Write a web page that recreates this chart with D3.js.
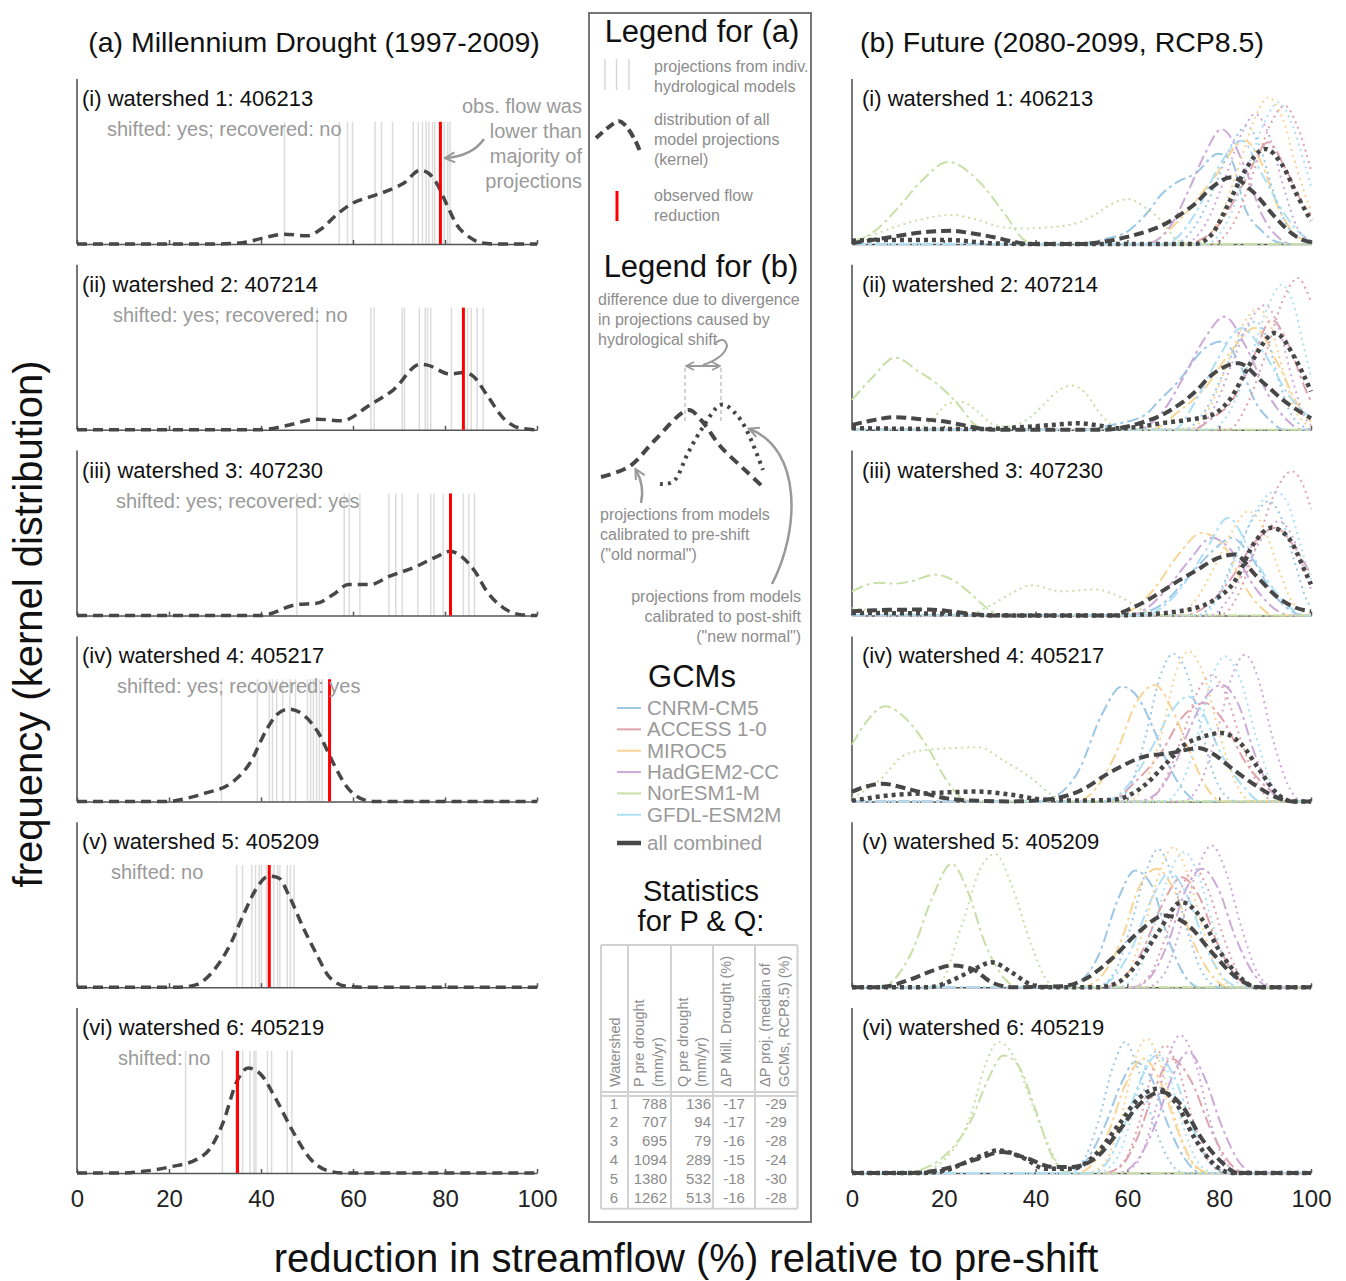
<!DOCTYPE html>
<html>
<head>
<meta charset="utf-8">
<script src="https://cdn.jsdelivr.net/npm/d3@7"></script>
<style>
	body { margin: 0; background: #fff; }
	svg { font-family: "Liberation Sans", Arial, sans-serif; }
</style>
</head>
<body>
<svg id="chart" width="1346" height="1281"></svg>
<script>
// ---- data ----
const xTicks = [0, 20, 40, 60, 80, 100];
const romans = ["i", "ii", "iii", "iv", "v", "vi"];
const watershedIds = ["406213", "407214", "407230", "405217", "405209", "405219"];
const shiftStatus = ["shifted: yes; recovered: no", "shifted: yes; recovered: no", "shifted: yes; recovered: yes",
	"shifted: yes; recovered: yes", "shifted: no", "shifted: no"];
const obsReduction = [79, 84, 81.2, 54.9, 41.8, 34.9];

// (a) projections of the individual hydrological models (%)
const projWs1 = [45.1, 57.0, 58.8, 59.9, 64.8, 66.2, 68.6, 73.1, 74.2, 75.1, 75.9, 76.5, 77.3, 77.8, 79.8, 80.6, 81.1];
const projWs2 = [52.2, 63.9, 64.6, 70.7, 71.2, 74.4, 75.7, 76.2, 76.9, 81.4, 84.9, 85.7, 87.0, 88.3];
const projWs3 = [47.8, 58.1, 59.2, 61.5, 67.8, 69.3, 70.7, 74.1, 76.9, 77.6, 79.6, 84.0, 85.2, 86.4];
const projWs4 = [31.4, 39.2, 41.8, 42.5, 43.4, 44.7, 46.3, 47.5, 50.1, 50.8, 51.4, 52.1, 52.7, 53.3];
const projWs5 = [34.7, 36.0, 38.0, 38.8, 39.6, 40.1, 41.2, 42.8, 43.6, 44.1, 45.7, 46.4, 47.2];
const projWs6 = [23.6, 31.6, 34.5, 36.0, 37.6, 38.5, 38.9, 41.4, 42.3, 45.7, 46.7];
const projTop = 74.5; // height of the model lines (frequency units)

// (a) kernel distribution of all model projections [reduction %, frequency]
const kernelWs1 = [[0,0],[30,0],[36,0.8],[41,4],[45,6],[50,5],[53,9],[56.5,18],[60,25],[64,29],[68,33],[71,37],[74.6,45],[76.5,43],[78.2,37],[80.4,24],[82.5,12],[85.4,4],[88,0.6],[91,0],[100,0]];
const kernelWs2 = [[0,0],[39.8,0],[45.6,2.6],[52.2,6.5],[57.5,5.5],[63.7,15.2],[68.8,24.4],[74.6,40],[76,39.6],[81.1,34],[84,35],[86.2,32.5],[89.1,21.3],[92.7,7.1],[96.3,1],[100,0]];
const kernelWs3 = [[0,0],[39.8,0],[47.8,6.7],[52.1,7.5],[55.7,12.8],[59,18.9],[63.7,18.9],[68,24],[73.8,30],[78.2,36],[81.1,39.2],[83.6,36],[86.5,27],[89.1,14.8],[92.7,4.7],[96.3,0.6],[100,0]];
const kernelWs4 = [[0,0],[20.2,0],[22.4,1],[27.5,4.7],[34,12.2],[37.6,23.4],[41.2,43.7],[43.4,52.8],[46,56.3],[49.2,52.8],[52.5,41.7],[55.7,23.4],[58.6,9.1],[61.5,2],[64.4,0],[100,0]];
const kernelWs5 = [[0,0],[22.4,0],[26,1.6],[29.6,9.8],[33.3,26],[36.2,44.3],[39.1,60.6],[41.6,67.7],[43.8,66.7],[46.3,54.5],[49.2,36.2],[52.1,20],[55,5.7],[58.6,0.6],[62,0],[100,0]];
const kernelWs6 = [[0,0],[9.3,0],[14.4,1],[20.2,3.7],[26,8.3],[28.9,14.8],[31.8,31],[34.7,55.5],[37.2,64],[39.8,60.6],[43.4,44.3],[47,25],[50.7,8.7],[54.3,1.6],[57.9,0],[100,0]];

// (b) GCMs, order: CNRM-CM5, ACCESS 1-0, MIROC5, HadGEM2-CC, NorESM1-M, GFDL-ESM2M
const gcmNames = ["CNRM-CM5", "ACCESS 1-0", "MIROC5", "HadGEM2-CC", "NorESM1-M", "GFDL-ESM2M"];
const gcmColors = ["#9cc7e6", "#e0a3ad", "#f8d594", "#cda9d9", "#c8dfa6", "#ade0f4"];

// old normal (models calibrated pre-shift), per GCM
const oldWs1 = [
	[[0,0],[49,0],[55,3],[60.2,8],[64,18],[67.5,30.5],[71,38],[74.7,42.7],[79.8,55],[82.7,50.8],[85.6,22],[89.3,8],[92.9,1],[96,0],[100,0]],
	[[0,0],[72,0],[76.9,4],[80.5,14],[85.6,38.6],[90.7,62],[94.3,46.7],[98.7,22.4],[100,18]],
	[[0,0],[64,0],[71.1,14],[78.4,38.6],[85.6,63],[89.3,48.8],[92.9,22],[96.5,6],[100,1]],
	[[0,0],[64,0],[69.6,12],[73.3,32.5],[76.9,55],[80.5,70],[85.6,46.7],[89.3,18],[92.9,4],[96,0],[100,0]],
	[[0,1],[5,8],[10,22],[15,38],[21,50],[27.5,38.6],[33.3,18.3],[37.7,2],[40,0],[100,0]],
	[[0,0],[68,0],[75.5,22],[79.8,46.7],[84.9,63],[89.3,42.7],[94.3,18],[98.7,4],[100,2]]
];
const oldWs2 = [
	[[0,0],[50,0],[56.6,3],[63.8,9],[67,18],[71.1,29.5],[76.9,49.8],[80.5,53.9],[84.2,41.7],[87.8,17.3],[91.4,5],[94,0],[100,0]],
	[[0,0],[74,0],[78.4,7],[82.7,17.3],[87.1,41.7],[91.4,67],[95.1,51.8],[98.7,25.4],[100,17.3]],
	[[0,0],[65,0],[71.1,11],[76.9,25.4],[82,45.7],[87.8,62],[92.9,39.6],[97.2,15],[100,5]],
	[[0,0],[62,0],[68.2,13],[72.5,33.5],[76.9,56],[81.2,69],[85.6,51.8],[90.7,21.3],[95.1,5],[98,0],[100,0]],
	[[0,18.3],[4.3,31.5],[9.4,44],[14.5,35.6],[18.8,27.4],[23.2,15.2],[26.8,3],[29,0],[100,0]],
	[[0,0],[70,0],[75.5,21],[79.8,43.7],[84.9,62],[90,45.7],[95.1,21.3],[100,7]]
];
const oldWs3 = [
	[[0,0],[60,0],[64,2],[67.5,6.7],[72.5,21],[78.4,39],[82.7,47.4],[87.1,35.2],[91.4,14.8],[95.8,2.6],[98,0],[100,0]],
	[[0,0],[72,0],[78.4,8.7],[82.7,23],[87.8,45],[92.2,53.5],[96.5,41.3],[100,25]],
	[[0,0],[56,0],[61.7,4.7],[66,16.9],[71.1,37.2],[76.2,50.4],[81.3,41.3],[84.9,21],[88.5,6.7],[92,0],[100,0]],
	[[0,0],[60,0],[64,4],[67.5,12.8],[73.3,33],[78.4,47.4],[83.4,37.2],[87.8,17],[92.9,2.6],[96,0],[100,0]],
	[[0,14.8],[5.7,20],[9.4,19.5],[13,21],[18.1,25],[22.4,21],[26.1,12.8],[30.4,2.6],[33,0],[100,0]],
	[[0,0],[64,0],[67.5,5],[71.1,14.8],[76.9,39],[82,59.6],[87.1,37.2],[92.2,14.8],[96.5,2.6],[99,0],[100,0]]
];
const oldWs4 = [
	[[0,0],[40,0],[43.5,2],[49.3,18.3],[54.4,52.8],[58.8,70],[62.4,63],[65.3,46.7],[68.9,22.4],[72.5,6],[75.6,0],[100,0]],
	[[0,0],[56,0],[61.7,12],[67.5,30.5],[71.8,50.8],[76.9,60],[80.5,50.8],[85.6,24.4],[91.4,6],[95,0],[100,0]],
	[[0,0],[49,0],[53.7,10],[58,32.5],[61.7,59],[66,71],[69.6,57],[73.3,32.5],[76.9,10],[80.5,0],[100,0]],
	[[0,0],[62,0],[66,4],[69.6,18.3],[73.3,42.7],[76.9,63],[80.5,71],[84.2,59],[87.8,28.5],[91.4,6],[94,0],[100,0]],
	[[0,34.6],[3,48],[7.2,58],[11.6,50.8],[16.6,32.5],[20.3,14.2],[23.9,2],[26,0],[100,0]],
	[[0,0],[55,0],[60.2,10],[65.3,32.5],[69.6,55],[73.3,64],[76.2,55],[80.5,28.5],[85.6,8],[89,0],[100,0]]
];
const oldWs5 = [
	[[0,0],[45,0],[47.9,1],[53.7,19.3],[58,53.9],[61.7,71.1],[65.3,62],[68.9,29.5],[72.5,7],[75.6,0],[100,0]],
	[[0,0],[55,0],[58.8,5],[63.1,21.3],[67.5,49.8],[71.8,67],[75.5,56],[79.8,25.4],[84.2,5],[87,0],[100,0]],
	[[0,0],[50,0],[54.4,7],[58.8,29.5],[62.4,60],[66.4,72.2],[70.4,57.9],[74.7,25.4],[79.1,5],[82,0],[100,0]],
	[[0,0],[61,0],[64.6,5],[68.9,27.4],[72.5,58],[76.2,72.2],[79.8,60],[83.4,31.5],[87.8,7],[91,0],[100,0]],
	[[0,0],[5,0],[7.2,1],[13,21.3],[17.4,53.9],[21.7,75.2],[25.3,57.9],[28.9,27.4],[33.3,5],[36,0],[100,0]],
	[[0,0],[53,0],[56.6,5],[60.9,23.4],[65.3,54],[69.3,70],[73.3,54],[77.6,21.3],[82,3],[85,0],[100,0]]
];
const oldWs6 = [
	[[0,0],[46,0],[49.3,2.6],[55.1,29],[58.8,55.5],[61.7,67.7],[65.3,57.5],[68.9,29],[72.5,8.7],[76,0],[100,0]],
	[[0,0],[55,0],[58.8,4.7],[62.4,23],[66,51.4],[69.6,69.7],[74,55.5],[78.4,25],[82.7,4.7],[86,0],[100,0]],
	[[0,0],[49,0],[52.2,4.7],[55.9,25],[59.5,53.5],[63.5,69.7],[67.5,53.5],[71.1,25],[74.7,4.7],[78,0],[100,0]],
	[[0,0],[58,0],[62.4,8.7],[66,29],[69.6,57.5],[73.3,73.8],[76.9,57.5],[80.5,29],[84.9,4.7],[88,0],[100,0]],
	[[0,0],[12,0],[14.5,1.6],[20.3,10.8],[26.1,33],[29.7,57.5],[33,71.7],[36.2,65.6],[39.9,39.2],[43.5,10.8],[46.4,0.6],[49,0],[100,0]],
	[[0,0],[52,0],[55.1,4.7],[58.8,25],[62.4,53.5],[66.4,71.7],[70.4,57.5],[74,29],[78.4,4.7],[82,0],[100,0]]
];

// new normal (models calibrated post-shift), per GCM
const newWs1 = [
	[[0,0],[70,0],[75,12],[79,35],[83,62],[86,72],[89,58],[92,30],[95,10],[98,2],[100,0]],
	[[0,0],[78,0],[83,12],[87,40],[91,72],[94.3,84.3],[97,72],[100,45]],
	[[0,0],[75,0],[80,15],[84,45],[88,78],[90.7,89.4],[94,75],[97,45],[100,20]],
	[[0,0],[72,0],[77,12],[81,38],[85,68],[87.8,79.3],[91,65],[94,35],[97,10],[100,2]],
	[[0,2],[5,6],[10,11],[15,15],[21.7,17.7],[27,15],[33.3,10],[38,9.5],[42,10],[48,12],[53,18],[57,25],[60.2,27.4],[64,22],[67.5,14],[71,2],[74,0],[100,0]],
	[[0,0],[77,0],[82,15],[86,45],[90,75],[92.9,86.4],[96,72],[98.5,50],[100,35]]
];
const newWs2 = [
	[[0,0],[72,0],[77,12],[81,35],[85,58],[87.8,66],[90.5,55],[93,30],[96,8],[100,0]],
	[[0,0],[82,0],[86,15],[90,45],[94,80],[97.2,92.5],[99,85],[100,78]],
	[[0,0],[73,0],[78,14],[82,42],[86,68],[88.5,74],[91,65],[94,35],[97,10],[100,2]],
	[[0,0],[74,0],[79,14],[83,42],[87,68],[90,76],[93,62],[96,30],[99,6],[100,3]],
	[[0,0],[14,0],[18,8],[21,16],[24,17],[27,12],[31,3],[34,2],[38,6],[42,16],[45,24],[47.9,27],[51,22],[54,10],[56.6,3],[60,0],[100,0]],
	[[0,0],[78,0],[83,15],[87,45],[91,78],[93.6,88.4],[96,78],[98.5,50],[100,32]]
];
const newWs3 = [
	[[0,0],[75,0],[80,14],[84,40],[88,62],[90.7,69.7],[93.5,60],[96.5,32],[99,10],[100,5]],
	[[0,0],[80,0],[84,12],[88,42],[92,74],[95.8,88],[98.5,78],[100,65]],
	[[0,0],[70,0],[75,10],[79,30],[83,52],[86.3,63.6],[89.5,55],[93,28],[96,8],[100,0]],
	[[0,0],[78,0],[82,10],[86,30],[90,50],[92.9,57.5],[96,48],[98.5,28],[100,16]],
	[[0,4.7],[6,2.5],[12,1],[20,0.5],[26,1.5],[30,6],[35,14],[39.1,18.5],[45.7,14.8],[52.9,15.9],[58.8,10.8],[63.8,2.6],[67,0],[100,0]],
	[[0,0],[76,0],[80,12],[84,38],[88,64],[92.2,75.8],[95,68],[98,40],[100,22]]
];
const newWs4 = [
	[[0,0],[57,0],[61,12],[64,40],[67,75],[70,90],[73,78],[76,45],[79,15],[82,2],[84,0],[100,0]],
	[[0,0],[64,0],[68,12],[72,40],[75.5,68],[78.4,77],[81.5,65],[85,35],[88.5,10],[92,0],[100,0]],
	[[0,0],[60,0],[64,12],[67.5,42],[70.5,78],[73.3,91.5],[76.5,78],[80,42],[83.5,12],[87,0],[100,0]],
	[[0,0],[72,0],[76,12],[79.5,42],[83,78],[85.6,89.4],[88.5,75],[91.5,40],[95,10],[98,0],[100,0]],
	[[0,2],[5.7,12.2],[11.6,28.5],[16.6,31.5],[22.4,32.5],[27.5,33.1],[33.3,24.4],[39.1,14.2],[43.5,4],[47.9,0.4],[50,0],[100,0]],
	[[0,0],[68,0],[72,12],[75.5,42],[78.5,76],[81.3,88.4],[84.5,75],[88,40],[91.5,10],[95,0],[100,0]]
];
const newWs5 = [
	[[0,0],[53,0],[57,8],[60.5,35],[64,70],[66.7,84.3],[69.5,70],[73,35],[76.5,8],[80,0],[100,0]],
	[[0,0],[61,0],[65,8],[68.5,32],[72,62],[74.7,72.2],[77.5,60],[81,30],[84.5,7],[88,0],[100,0]],
	[[0,0],[56,0],[60,8],[63.5,35],[67,70],[70,85.4],[73,70],[76.5,35],[80,8],[83.5,0],[100,0]],
	[[0,0],[64,0],[68,8],[71.5,35],[75,70],[78.4,86.4],[81.5,70],[85,35],[88.5,8],[92,0],[100,0]],
	[[0,0],[17,0],[18.8,1],[23.9,37.6],[28.3,74.2],[31.2,81.3],[34.8,62],[39.1,25.4],[42.8,3],[45,0],[100,0]],
	[[0,0],[58,0],[62,8],[65.5,35],[69,68],[72.5,82.3],[75.5,68],[79,35],[82.5,8],[86,0],[100,0]]
];
const newWs6 = [
	[[0,0],[46,0],[50,6],[53.5,30],[57,66],[59.5,79.9],[62,66],[65.5,32],[69,8],[72.5,0],[100,0]],
	[[0,0],[55,0],[59,6],[62.5,30],[65.5,62],[68.2,77.8],[71,64],[74.5,30],[78,6],[81.5,0],[100,0]],
	[[0,0],[51,0],[55,6],[58.5,32],[61.5,68],[64.2,81.9],[67,68],[70.5,32],[74,6],[77.5,0],[100,0]],
	[[0,0],[58,0],[62,6],[65.5,32],[68.8,70],[71.5,84],[74.5,70],[78,32],[81.5,6],[85,0],[100,0]],
	[[0,0],[14,0],[20.3,8.7],[26.1,37.2],[29,65.6],[31.9,79.9],[35.5,69.7],[39.1,43.3],[42.8,16.9],[45.7,2.6],[48,0],[100,0]],
	[[0,0],[53,0],[57,6],[60.5,30],[63.5,62],[66,73.8],[68.8,62],[72,30],[75.5,6],[79,0],[100,0]]
];

// all GCMs combined
const allOldWs1 = [[0,0.5],[8,4],[15,7],[21.7,8.1],[26,6.5],[31.2,4],[35,1.5],[39,0],[50,0],[55,1.5],[60.2,4.5],[64,7.5],[67.5,11.2],[71,17],[74.7,24.4],[78.4,34.5],[82.7,40.7],[87.1,32.5],[92.9,14.2],[96,6],[98.7,2],[100,1]];
const allNewWs1 = [[0,2],[5.7,2.4],[21.7,2.4],[27,1.2],[31,0.4],[40,0],[74.7,0],[78.4,6],[82,24.4],[85.6,44.7],[90,58],[93.6,48.8],[97.2,28.5],[100,14.2]];
const allOldWs2 = [[0,3],[4,5.5],[9.4,7.7],[15,6.5],[20.3,5],[24,3],[27.5,1],[32,0],[55,0],[60,2],[63.8,5],[67.5,9],[71.1,15],[74.7,23],[78.4,33.5],[84.2,40.6],[89.3,29.5],[94.3,17.3],[100,7]];
const allNewWs2 = [[0,1],[20,0.5],[30,0.5],[36,1.5],[42,2.6],[49.3,4],[54,2.5],[58,1],[63,2],[67.5,4],[73,6],[78.4,9],[82,17.3],[87.1,41.7],[92.2,59],[96.5,43.7],[100,23.4]];
const allOldWs3 = [[0,2.6],[8,3.5],[16.6,3.7],[22,2.5],[27.5,0.6],[32,0],[56.6,0],[60.2,3.7],[63.8,8.5],[67.5,14.8],[71,21],[74.7,27],[79.8,35.2],[83.4,37.2],[87.8,25],[92.9,10.8],[96.5,5],[100,2.6]];
const allNewWs3 = [[0,1.6],[20,1.2],[30,0.2],[56,0],[62,0.5],[71.1,2.6],[78.4,8.7],[83.4,21],[87.8,45],[91.4,53.5],[95.1,47.4],[98.7,27],[100,19]];
const allOldWs4 = [[0,6],[3,9],[6.5,10.8],[13,7],[20.3,2],[26,0.5],[34.8,0],[42,1],[49.3,6],[56.6,18.3],[63.8,27.4],[69.6,29.5],[75.5,32.5],[78.4,29.5],[82.7,20.3],[87.8,10],[92.9,2],[96,0],[100,0]];
const allNewWs4 = [[0,0.4],[9.4,4],[16.6,5],[27.5,6],[34.8,4],[42,1],[50,0.5],[57,1],[63.8,10],[68.2,22.4],[72.5,34.6],[76,39],[80.5,41.7],[84.9,34.6],[88.5,20.3],[92.9,4],[96,0],[100,0]];
const allOldWs5 = [[0,0],[5.7,0],[13,5],[17.4,10],[21.7,13.2],[26.1,11.2],[30.4,3],[34.8,0],[45.7,0.6],[50.8,5],[56.6,17.3],[62.4,33.5],[68.2,43.7],[73.3,37.6],[78.4,21.3],[84.2,5],[89,0],[100,0]];
const allNewWs5 = [[0,0],[17,0],[18.8,1],[23.9,7],[27.5,12.2],[30.4,15.2],[34.8,9],[39.1,1.4],[42,0],[53.7,0],[58,3],[62.4,15.2],[66.7,33.5],[71.8,51.8],[76.2,41.7],[79.8,23.4],[84.2,7],[88,0],[100,0]];
const allOldWs6 = [[0,0],[13,0],[20.3,2.6],[27.5,8.7],[32.6,12.8],[38.4,8.7],[43.5,3.7],[47.9,3.7],[52.9,8.7],[58,25],[62.4,41.3],[67.5,49.4],[71.8,41.3],[76.2,21],[80.5,6.7],[84,0],[100,0]];
const allNewWs6 = [[0,0],[15,0],[20.3,1.6],[27.5,9.8],[31.9,13.8],[37.7,8.7],[42,2.6],[47.9,2.6],[52.9,10.8],[58,29],[62.4,45.3],[66.4,51.4],[70.4,43.3],[74.7,21],[79.1,4.7],[83,0],[100,0]];

// statistics table
const tableHeaders = [["Watershed"], ["P pre drought", "(mm/yr)"], ["Q pre drought", "(mm/yr)"],
	["ΔP Mill. Drought (%)"], ["ΔP proj. (median of", "GCMs, RCP8.5) (%)"]];
const watershedNo = [1, 2, 3, 4, 5, 6];
const pPreDrought = [788, 707, 695, 1094, 1380, 1262];
const qPreDrought = [136, 94, 79, 289, 532, 513];
const dPMill = [-17, -17, -16, -15, -18, -16];
const dPProj = [-29, -29, -28, -24, -30, -28];

const projections = [projWs1, projWs2, projWs3, projWs4, projWs5, projWs6];
const kernels = [kernelWs1, kernelWs2, kernelWs3, kernelWs4, kernelWs5, kernelWs6];
const oldNormal = [oldWs1, oldWs2, oldWs3, oldWs4, oldWs5, oldWs6];
const newNormal = [newWs1, newWs2, newWs3, newWs4, newWs5, newWs6];
const allOld = [allOldWs1, allOldWs2, allOldWs3, allOldWs4, allOldWs5, allOldWs6];
const allNew = [allNewWs1, allNewWs2, allNewWs3, allNewWs4, allNewWs5, allNewWs6];

// ---- drawing ----
const svg = d3.select("#chart");
const dark = "#474747", grayText = "#9a9a9a";

const defs = svg.append("defs");
defs.append("marker")
	.attr("id", "head")
	.attr("viewBox", "0 0 10 10")
	.attr("refX", 8).attr("refY", 5)
	.attr("markerWidth", 5).attr("markerHeight", 5)
	.attr("markerUnits", "strokeWidth")
	.attr("orient", "auto-start-reverse")
	.append("path")
	.attr("d", "M1,1 L9,5 L1,9")
	.attr("fill", "none")
	.attr("stroke", "#999")
	.attr("stroke-width", 1.6);

const xLeft = d3.scaleLinear().domain([0, 100]).range([77, 537]);
const xRight = d3.scaleLinear().domain([0, 100]).range([852, 1311]);
const panelH = 164;
const subX = [107, 113, 116, 117, 111, 118];

function baseOf(k) { return 244 + 185.8 * k; }

function drawFrame(g, x, y, k) {
	//vertical axis
	g.append("line")
		.attr("x1", x(0)).attr("x2", x(0))
		.attr("y1", y(0)).attr("y2", y(0) - panelH - 1)
		.attr("stroke", "#777").attr("stroke-width", 2);
	//bottom axis
	const ax = g.append("g")
		.attr("transform", `translate(0, ${y(0)})`)
		.call(d3.axisBottom(x).tickValues(xTicks).tickSizeInner(-4).tickSizeOuter(0).tickPadding(17)
			.tickFormat(k === 5 ? d3.format("d") : ""));
	ax.select(".domain").attr("stroke", "#555").attr("stroke-width", 1.5);
	ax.selectAll(".tick line").attr("stroke", "#555").attr("stroke-width", 1.5);
	ax.selectAll(".tick text")
		.attr("fill", "#222")
		.style("font-size", "24px")
		.style("font-family", "'Liberation Sans', Arial, sans-serif");
}

for (let k = 0; k < 6; k++) {
	const b = baseOf(k);
	const y = d3.scaleLinear().domain([0, 100]).range([b, b - panelH]);

	// ----- (a) panel -----
	const ga = svg.append("g");
	const lineA = d3.line().x(d => xLeft(d[0])).y(d => y(d[1])).curve(d3.curveMonotoneX);

	ga.selectAll(".proj")
		.data(projections[k])
		.enter().append("line")
		.attr("x1", d => xLeft(d)).attr("x2", d => xLeft(d))
		.attr("y1", y(0)).attr("y2", y(projTop))
		.attr("stroke", "#dcdcdc").attr("stroke-width", 1.5);

	drawFrame(ga, xLeft, y, k);

	ga.append("path")
		.datum(kernels[k])
		.attr("fill", "none")
		.attr("stroke", dark)
		.attr("stroke-width", 3.5)
		.attr("stroke-dasharray", "10,6")
		.attr("d", lineA);

	ga.append("line")
		.attr("x1", xLeft(obsReduction[k])).attr("x2", xLeft(obsReduction[k]))
		.attr("y1", y(0)).attr("y2", y(projTop))
		.attr("stroke", "#ff0000").attr("stroke-width", 3);

	ga.append("text")
		.attr("x", xLeft(0) + 5).attr("y", b - 138)
		.style("font-size", "22px").attr("fill", "#111")
		.text(`(${romans[k]}) watershed ${k + 1}: ${watershedIds[k]}`);
	ga.append("text")
		.attr("x", subX[k]).attr("y", b - 108)
		.style("font-size", "20px").attr("fill", grayText)
		.text(shiftStatus[k]);

	// ----- (b) panel -----
	const gb = svg.append("g");
	const lineB = d3.line().x(d => xRight(d[0])).y(d => y(d[1])).curve(d3.curveMonotoneX);
	drawFrame(gb, xRight, y, k);

	gb.selectAll(".old")
		.data(oldNormal[k])
		.enter().append("path")
		.attr("fill", "none")
		.attr("stroke", (d, i) => gcmColors[i])
		.attr("stroke-width", 2)
		.attr("stroke-dasharray", "12,4,3,4")
		.attr("d", lineB);
	gb.selectAll(".new")
		.data(newNormal[k])
		.enter().append("path")
		.attr("fill", "none")
		.attr("stroke", (d, i) => gcmColors[i])
		.attr("stroke-width", 2)
		.attr("stroke-dasharray", "2,4")
		.attr("d", lineB);

	gb.append("path")
		.datum(allOld[k])
		.attr("fill", "none")
		.attr("stroke", dark)
		.attr("stroke-width", 4)
		.attr("stroke-dasharray", "10,5")
		.attr("d", lineB);
	gb.append("path")
		.datum(allNew[k])
		.attr("fill", "none")
		.attr("stroke", dark)
		.attr("stroke-width", 4.5)
		.attr("stroke-dasharray", "4,4")
		.attr("d", lineB);

	gb.append("text")
		.attr("x", xRight(0) + 10).attr("y", b - 138)
		.style("font-size", "22px").attr("fill", "#111")
		.text(`(${romans[k]}) watershed ${k + 1}: ${watershedIds[k]}`);
}

// annotation in (a)(i)
const noteLines = ["obs. flow was", "lower than", "majority of", "projections"];
svg.append("g").selectAll("text")
	.data(noteLines)
	.enter().append("text")
	.attr("x", 582).attr("y", (d, i) => 113 + 25 * i)
	.attr("text-anchor", "end")
	.style("font-size", "20px").attr("fill", grayText)
	.text(d => d);
svg.append("path")
	.attr("d", "M 484 139 Q 472 156 446 158")
	.attr("fill", "none").attr("stroke", "#999").attr("stroke-width", 2.5)
	.attr("marker-end", "url(#head)");

// headers and axis titles
svg.append("text").attr("x", 314).attr("y", 52).attr("text-anchor", "middle")
	.style("font-size", "28.5px").attr("fill", "#111").text("(a) Millennium Drought (1997-2009)");
svg.append("text").attr("x", 1062).attr("y", 52).attr("text-anchor", "middle")
	.style("font-size", "28.5px").attr("fill", "#111").text("(b) Future (2080-2099, RCP8.5)");
svg.append("text")
	.attr("transform", "translate(42, 624) rotate(-90)")
	.attr("text-anchor", "middle")
	.style("font-size", "40px").attr("fill", "#111")
	.text("frequency (kernel distribution)");
svg.append("text").attr("x", 686).attr("y", 1272).attr("text-anchor", "middle")
	.style("font-size", "40px").attr("fill", "#111")
	.text("reduction in streamflow (%) relative to pre-shift");

// ---- middle box: legends and table ----
const box = svg.append("g");
box.append("rect")
	.attr("x", 589).attr("y", 13).attr("width", 222).attr("height", 1209)
	.attr("fill", "none").attr("stroke", "#777").attr("stroke-width", 2);

function heading(t, x, yy, size) {
	box.append("text").attr("x", x).attr("y", yy).attr("text-anchor", "middle")
		.style("font-size", (size || 31) + "px").attr("fill", "#111").text(t);
}
function smallText(lines, x, y0, anchor) {
	box.append("g").selectAll("text")
		.data(lines)
		.enter().append("text")
		.attr("x", x).attr("y", (d, i) => y0 + 20 * i)
		.attr("text-anchor", anchor || "start")
		.style("font-size", "16px").attr("fill", "#8c8c8c")
		.text(d => d);
}

// legend for (a)
heading("Legend for (a)", 702, 42);
box.selectAll(".lg").data([605, 616.5, 629]).enter().append("line")
	.attr("x1", d => d).attr("x2", d => d).attr("y1", 59).attr("y2", 90)
	.attr("stroke", "#d6d6d6").attr("stroke-width", 1.5);
smallText(["projections from indiv.", "hydrological models"], 654, 72);
box.append("path")
	.datum([[596, 138], [616, 122], [625, 125], [635, 140], [641, 154]])
	.attr("d", d3.line().curve(d3.curveCardinal))
	.attr("fill", "none").attr("stroke", dark).attr("stroke-width", 4).attr("stroke-dasharray", "9,5");
smallText(["distribution of all", "model projections", "(kernel)"], 654, 125);
box.append("line").attr("x1", 617).attr("x2", 617).attr("y1", 191).attr("y2", 221)
	.attr("stroke", "#ff0000").attr("stroke-width", 3);
smallText(["observed flow", "reduction"], 654, 201);

// legend for (b)
heading("Legend for (b)", 701, 277);
smallText(["difference due to divergence", "in projections caused by", "hydrological shift"], 598, 305);
box.append("path").attr("d", "M 714 344 Q 725 335 727 346 Q 724 358 703 365")
	.attr("fill", "none").attr("stroke", "#999").attr("stroke-width", 2);
box.append("line").attr("x1", 687).attr("x2", 719).attr("y1", 366).attr("y2", 366)
	.attr("stroke", "#999").attr("stroke-width", 2)
	.attr("marker-start", "url(#head)").attr("marker-end", "url(#head)");
box.selectAll(".dv").data([685, 721]).enter().append("line")
	.attr("x1", d => d).attr("x2", d => d).attr("y1", 368).attr("y2", 423)
	.attr("stroke", "#c4c4c4").attr("stroke-width", 1.5).attr("stroke-dasharray", "4,3");
box.append("path")
	.datum([[601, 477], [630, 466], [655, 440], [685, 411], [701, 420], [721, 447], [745, 470], [763, 487]])
	.attr("d", d3.line().curve(d3.curveCardinal))
	.attr("fill", "none").attr("stroke", dark).attr("stroke-width", 4).attr("stroke-dasharray", "10,6");
box.append("path")
	.datum([[660, 484], [675, 480], [688, 453], [703, 427], [720, 405], [735, 413], [748, 433], [763, 470]])
	.attr("d", d3.line().curve(d3.curveCardinal))
	.attr("fill", "none").attr("stroke", dark).attr("stroke-width", 4).attr("stroke-dasharray", "3,5");
box.append("path").attr("d", "M 641 503 Q 645 486 636 470")
	.attr("fill", "none").attr("stroke", "#999").attr("stroke-width", 2.5).attr("marker-end", "url(#head)");
box.append("path").attr("d", "M 772 584 C 800 530, 802 450, 750 429")
	.attr("fill", "none").attr("stroke", "#999").attr("stroke-width", 2.5).attr("marker-end", "url(#head)");
smallText(["projections from models", "calibrated to pre-shift", "(\"old normal\")"], 600, 520);
smallText(["projections from models", "calibrated to post-shift", "(\"new normal\")"], 801, 602, "end");

// GCM legend
heading("GCMs", 692, 687);
const gcmRows = box.append("g").selectAll("g")
	.data(gcmNames)
	.enter().append("g")
	.attr("transform", (d, i) => `translate(0, ${715 + 21.35 * i})`);
gcmRows.append("line").attr("x1", 617).attr("x2", 641).attr("y1", -7).attr("y2", -7)
	.attr("stroke", (d, i) => gcmColors[i]).attr("stroke-width", 2);
gcmRows.append("text").attr("x", 647)
	.style("font-size", "20.5px").attr("fill", grayText)
	.text(d => d);
box.append("line").attr("x1", 617).attr("x2", 641).attr("y1", 843).attr("y2", 843)
	.attr("stroke", dark).attr("stroke-width", 4.5);
box.append("text").attr("x", 647).attr("y", 850)
	.style("font-size", "20.5px").attr("fill", grayText).text("all combined");

// statistics table
heading("Statistics", 701, 901, 29);
heading("for P & Q:", 701, 931, 29);
const colEdges = [601, 628, 671, 713, 755, 797.5];
const tableTop = 945, headBottom = 1092, rowTop = 1096, rowH = 18.8;
const tbl = box.append("g").attr("stroke", "#d2d2d2").attr("stroke-width", 2);
colEdges.forEach(cx => {
	tbl.append("line").attr("x1", cx).attr("x2", cx).attr("y1", tableTop).attr("y2", rowTop + 6 * rowH);
});
[tableTop, headBottom, rowTop, rowTop + 6 * rowH].forEach(ry => {
	tbl.append("line").attr("x1", colEdges[0]).attr("x2", colEdges[5]).attr("y1", ry).attr("y2", ry);
});
const headBaseX = [[620], [644, 663], [687.5, 705.5], [731], [770, 789]];
tableHeaders.forEach((lines, c) => {
	lines.forEach((t, j) => {
		box.append("text")
			.attr("transform", `translate(${headBaseX[c][j]}, 1087) rotate(-90)`)
			.style("font-size", "14.5px").attr("fill", "#8c8c8c")
			.text(t);
	});
});
const tableCols = [watershedNo, pPreDrought, qPreDrought, dPMill, dPProj];
const cellX = [614, 667, 711, 734, 776];
const cellAnchor = ["middle", "end", "end", "middle", "middle"];
tableCols.forEach((col, c) => {
	box.append("g").selectAll("text")
		.data(col)
		.enter().append("text")
		.attr("x", cellX[c])
		.attr("y", (d, i) => 1108.5 + rowH * i)
		.attr("text-anchor", cellAnchor[c])
		.style("font-size", "15px").attr("fill", "#8c8c8c")
		.text(d => d);
});
</script>
</body>
</html>
